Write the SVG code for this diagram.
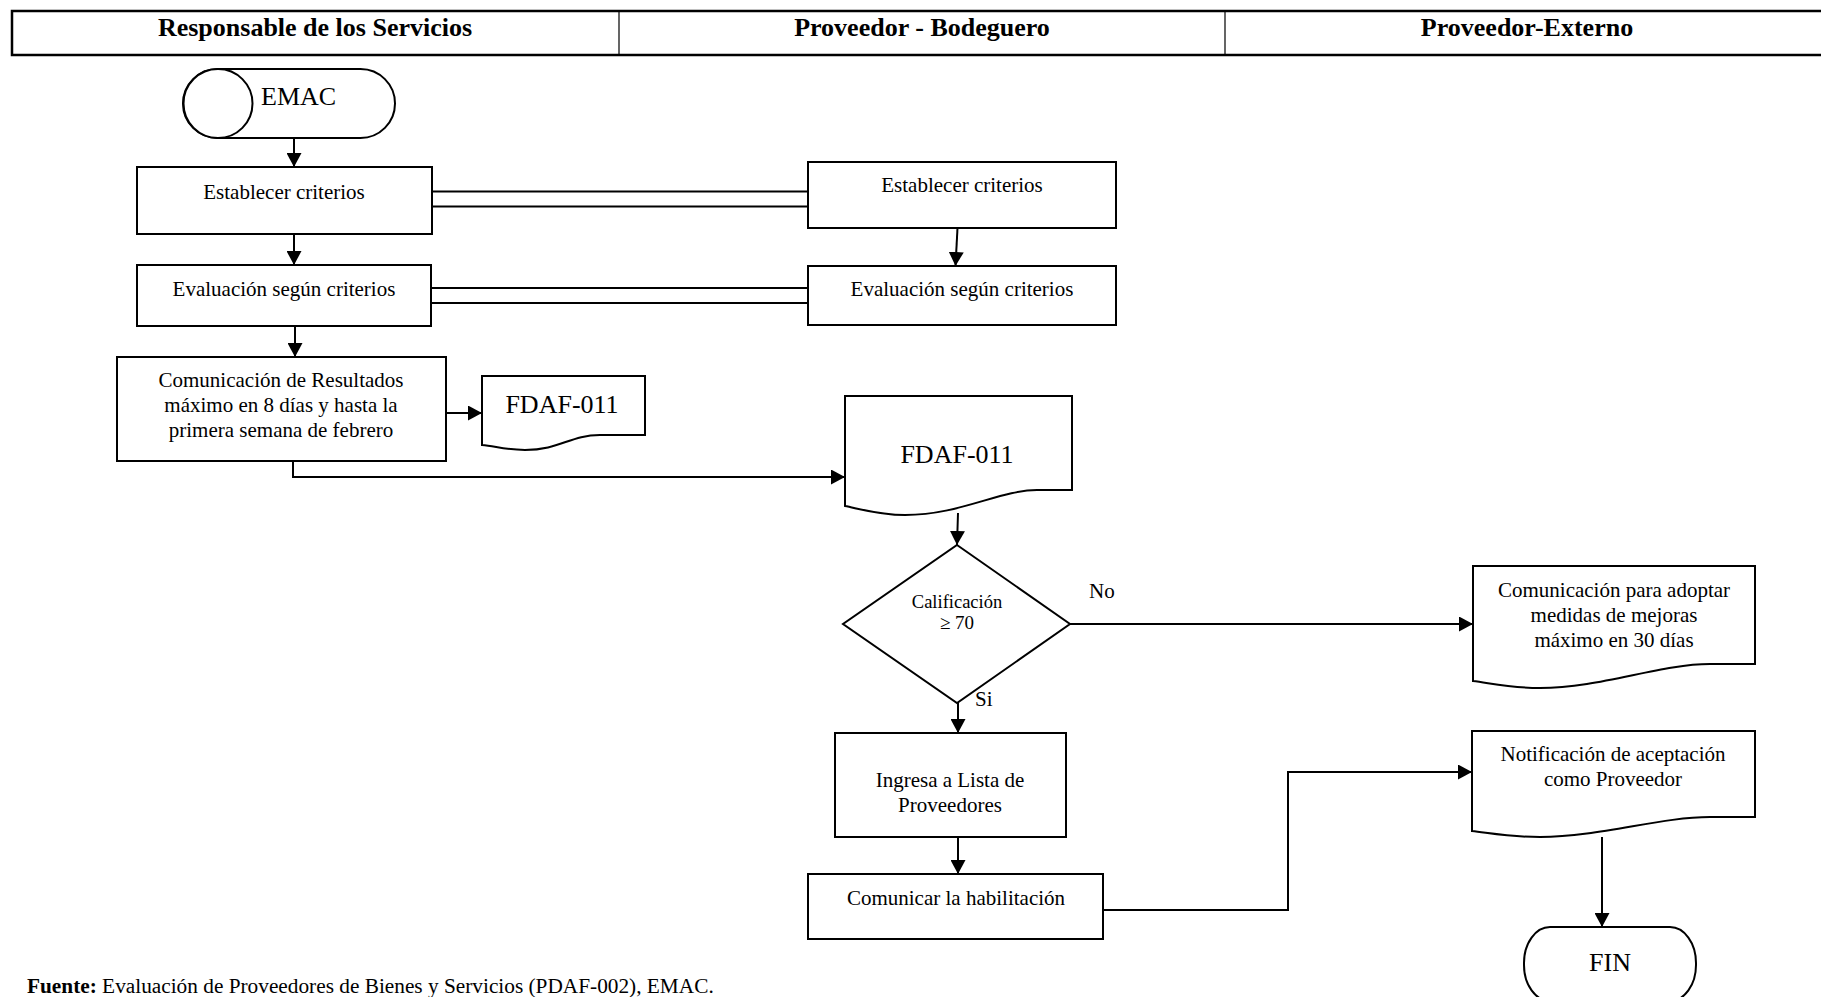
<svg xmlns="http://www.w3.org/2000/svg" width="1821" height="997" viewBox="0 0 1821 997">
<style>
text{font-family:"Liberation Serif","Times New Roman",serif;fill:#000}
.t{font-size:21px;text-anchor:middle}
.h{font-size:26px;font-weight:bold;text-anchor:middle}
.big{font-size:26px;text-anchor:middle}
.s{fill:#fff;stroke:#000;stroke-width:2}
.c{fill:none;stroke:#000;stroke-width:2}
.hd{fill:none;stroke:#000}
</style>
<defs>
<marker id="ar" markerUnits="userSpaceOnUse" markerWidth="14" markerHeight="15" refX="14" refY="7.5" orient="auto">
<path d="M0,0 L14,7.5 L0,15 z" fill="#000"/>
</marker>
</defs>
<rect width="1821" height="997" fill="#fff"/>
<g id="header">
<path class="hd" stroke-width="2.5" d="M1821,11 H12 V55 H1821"/>
<path class="hd" stroke-width="1.2" d="M619,11 V55 M1225,11 V55"/>
<text class="h" x="315" y="36">Responsable de los Servicios</text>
<text class="h" x="922" y="36">Proveedor - Bodeguero</text>
<text class="h" x="1527" y="36">Proveedor-Externo</text>
</g>
<g id="connectors">
<path class="c" marker-end="url(#ar)" d="M294,138 V167"/>
<path class="c" marker-end="url(#ar)" d="M294,234 V265"/>
<path class="c" marker-end="url(#ar)" d="M295,326 V357"/>
<path class="c" d="M432,191.5 H808 M432,206.5 H808"/>
<path class="c" d="M431,288 H808 M431,303 H808"/>
<path class="c" marker-end="url(#ar)" d="M957.5,228 L955.5,266"/>
<path class="c" marker-end="url(#ar)" d="M446,413 H482"/>
<path class="c" marker-end="url(#ar)" d="M293,461 V477 H845"/>
<path class="c" marker-end="url(#ar)" d="M958,513 L957,545"/>
<path class="c" marker-end="url(#ar)" d="M1070,624 H1473"/>
<path class="c" marker-end="url(#ar)" d="M958,703 V733"/>
<path class="c" marker-end="url(#ar)" d="M958,837 V874"/>
<path class="c" marker-end="url(#ar)" d="M1103,910 H1288 V772 H1472"/>
<path class="c" marker-end="url(#ar)" d="M1602,837 V927"/>
</g>
<g id="emac">
<rect class="s" x="183" y="69" width="212" height="69" rx="34.5" ry="34.5"/>
<circle class="s" cx="218" cy="103.5" r="34.5"/>
<text x="261" y="105" style="font-size:26px">EMAC</text>
</g>
<g id="establecer1">
<rect class="s" x="137" y="167" width="295" height="67"/>
<text class="t" x="284" y="199">Establecer criterios</text>
</g>
<g id="evaluacion1">
<rect class="s" x="137" y="265" width="294" height="61"/>
<text class="t" x="284" y="296">Evaluación según criterios</text>
</g>
<g id="establecer2">
<rect class="s" x="808" y="162" width="308" height="66"/>
<text class="t" x="962" y="192">Establecer criterios</text>
</g>
<g id="evaluacion2">
<rect class="s" x="808" y="266" width="308" height="59"/>
<text class="t" x="962" y="296">Evaluación según criterios</text>
</g>
<g id="comunicacion-resultados">
<rect class="s" x="117" y="357" width="329" height="104"/>
<text class="t" x="281" y="387">Comunicación de Resultados</text>
<text class="t" x="281" y="412">máximo en 8 días y hasta la</text>
<text class="t" x="281" y="437">primera semana de febrero</text>
</g>
<g id="fdaf-small">
<path class="s" d="M482,376 H645 V435 H600 C570,435 560,450 525,450 C505,450 495,446 482,445 Z"/>
<text class="big" x="562" y="413">FDAF-011</text>
</g>
<g id="fdaf-big">
<path class="s" d="M845,396 H1072 V490 H1037 C1000,490 960,515 905,515 C880,515 860,509 845,506 Z"/>
<text class="big" x="957" y="463">FDAF-011</text>
</g>
<g id="decision">
<path class="s" d="M957,545 L1070,624 L957,703 L843,624 Z"/>
<text x="957" y="608" style="font-size:18.5px;text-anchor:middle">Calificación</text>
<text x="957" y="629" style="font-size:19px;text-anchor:middle">≥ 70</text>
<text x="1089" y="598" style="font-size:21px">No</text>
<text x="975" y="706" style="font-size:21px">Si</text>
</g>
<g id="comunicacion-mejoras">
<path class="s" d="M1473,566 H1755 V664 H1710 C1660,664 1600,688 1540,688 C1510,688 1490,683 1473,681 Z"/>
<text class="t" x="1614" y="597">Comunicación para adoptar</text>
<text class="t" x="1614" y="622">medidas de mejoras</text>
<text class="t" x="1614" y="647">máximo en 30 días</text>
</g>
<g id="ingresa">
<rect class="s" x="835" y="733" width="231" height="104"/>
<text class="t" x="950" y="787">Ingresa a Lista de</text>
<text class="t" x="950" y="812">Proveedores</text>
</g>
<g id="comunicar">
<rect class="s" x="808" y="874" width="295" height="65"/>
<text class="t" x="956" y="905">Comunicar la habilitación</text>
</g>
<g id="notificacion">
<path class="s" d="M1472,731 H1755 V817 H1710 C1660,817 1600,837 1540,837 C1510,837 1490,833 1472,831 Z"/>
<text class="t" x="1613" y="761">Notificación de aceptación</text>
<text class="t" x="1613" y="786">como Proveedor</text>
</g>
<g id="fin">
<rect class="s" x="1524" y="927" width="172" height="74" rx="26" ry="36"/>
<text class="big" x="1610" y="971">FIN</text>
</g>
<g id="footer">
<text x="27" y="993" style="font-size:21.3px"><tspan font-weight="bold">Fuente:</tspan> Evaluación de Proveedores de Bienes y Servicios (PDAF-002), EMAC.</text>
</g>
</svg>
